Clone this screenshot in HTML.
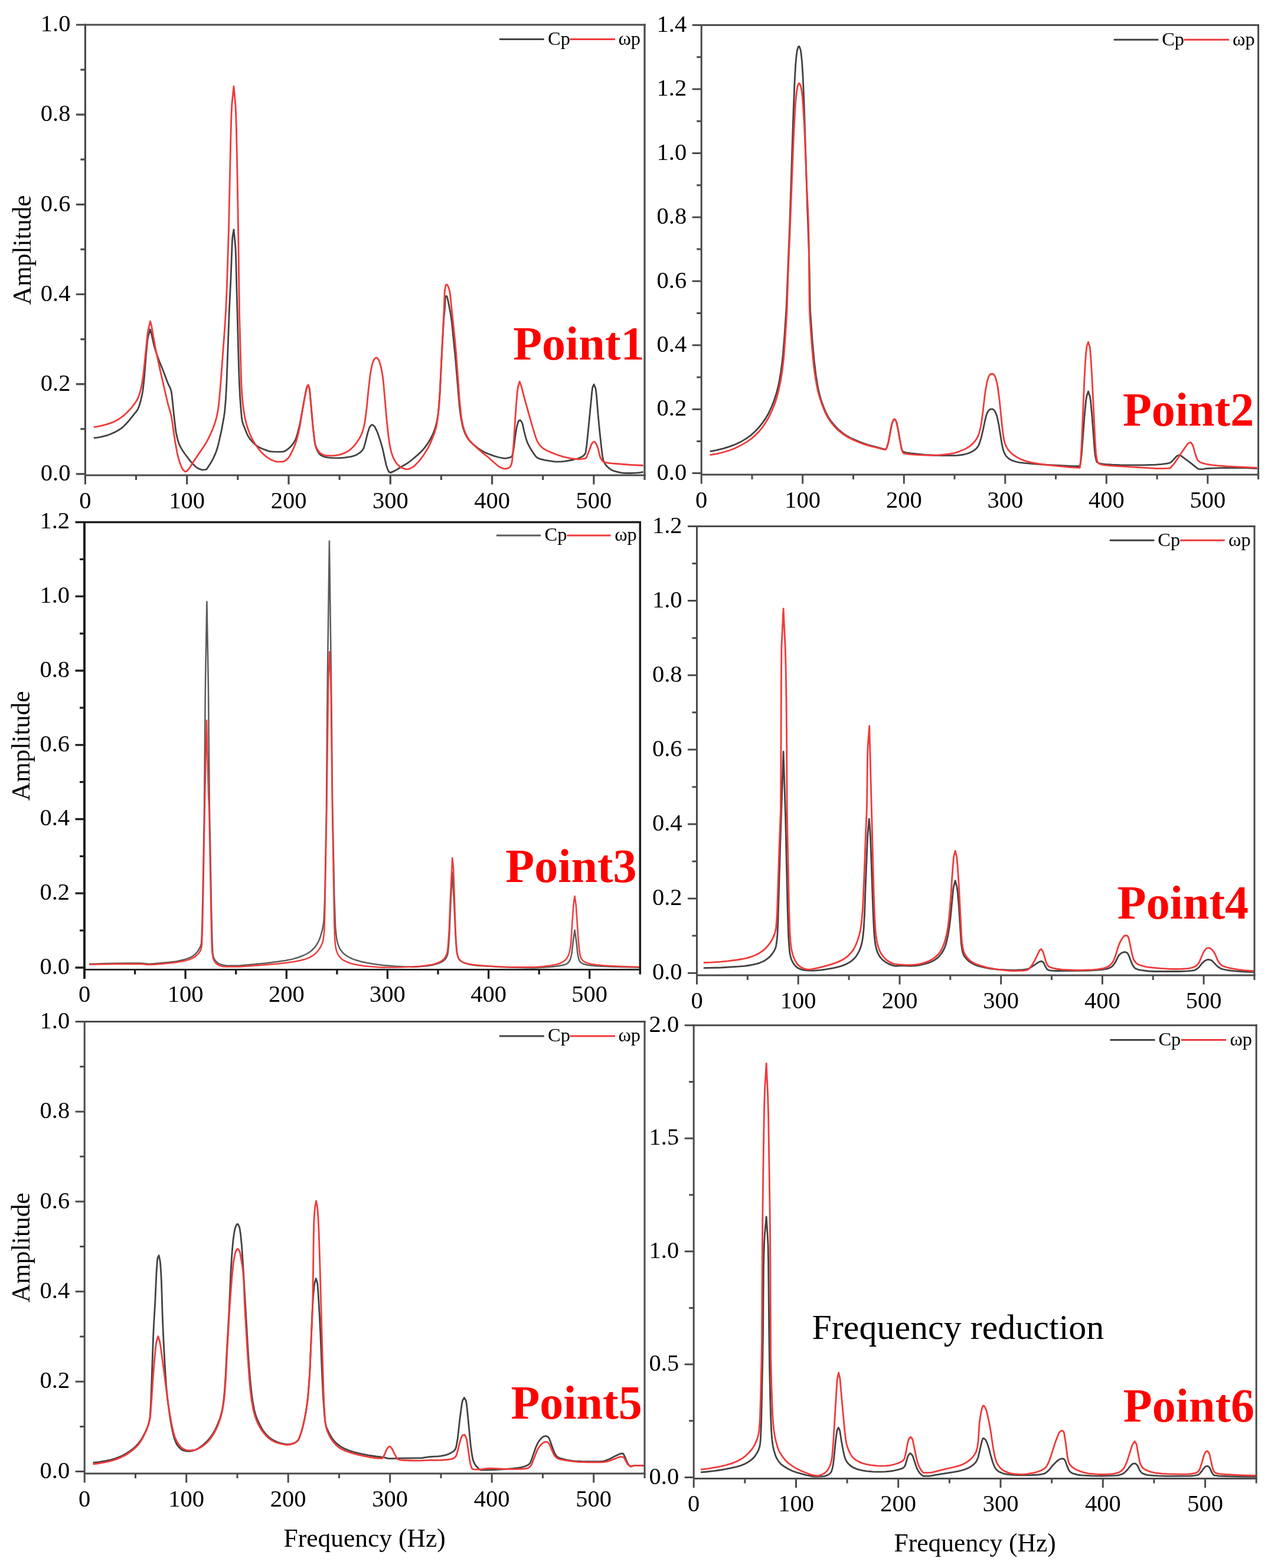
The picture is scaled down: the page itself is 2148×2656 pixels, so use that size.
<!DOCTYPE html>
<html lang="en">
<head>
<meta charset="utf-8">
<title>Amplitude spectra at monitoring points 1-6</title>
<style>
html,body{margin:0;padding:0;background:#ffffff;}
body{width:2148px;height:2656px;overflow:hidden;}
svg{display:block;filter:blur(0.7px);}
text{white-space:pre;}
</style>
</head>
<body>
<svg width="2148" height="2656" viewBox="0 0 2148 2656">
<rect x="0" y="0" width="2148" height="2656" fill="#ffffff"/>
<g id="panel1">
<path d="M158.8 741.9L163.8 741.3L169.8 740.3L176.8 738.7L181.8 737.3L187.3 735.2L193.8 732.4L198.3 730.1L202.8 727.3L206.3 724.9L209.3 722.3L212.8 718.8L217.8 713.3L221.3 709.1L227.3 701.4L230.8 697.2L232.3 695.2L233.8 692.6L235.8 687.5L238.3 679.0L240.3 670.7L241.8 662.5L243.3 650.2L244.8 634.6L247.3 603.0L249.8 576.1L250.8 570.6L254.4 558.0L256.9 566.9L260.9 585.2L264.4 596.9L269.4 610.7L277.4 630.5L283.9 647.9L284.9 650.3L288.4 657.4L289.9 662.0L290.4 664.2L291.4 671.9L294.9 705.9L297.4 727.1L298.4 733.2L300.4 742.4L301.9 747.8L303.4 752.0L304.9 755.4L306.9 759.1L309.9 764.1L312.9 768.5L323.4 782.3L327.9 787.1L331.4 790.5L333.9 792.4L336.9 793.9L339.9 795.2L342.4 795.8L345.4 795.7L348.9 795.3L349.9 794.8L351.4 792.8L357.4 783.5L361.4 776.1L364.9 768.4L367.9 760.1L370.9 748.5L375.4 728.0L379.4 705.9L380.9 694.9L382.4 676.4L383.9 648.3L388.4 524.7L390.9 474.4L393.4 407.3L393.9 401.4L396.0 388.8L398.5 414.9L399.0 421.5L399.5 432.5L404.0 606.0L405.0 638.6L406.5 671.2L408.0 691.7L409.5 708.3L410.5 713.8L412.0 718.9L418.0 734.1L420.5 739.2L424.0 744.4L428.0 748.9L433.0 753.7L437.0 756.5L440.5 758.4L444.5 760.2L453.0 763.4L456.5 764.5L459.0 764.9L464.5 765.2L475.0 765.3L480.5 764.9L483.0 763.9L487.0 761.2L489.5 759.2L492.0 756.9L494.5 754.1L497.5 749.9L500.5 744.8L502.0 740.9L504.0 734.2L507.0 722.3L508.5 715.4L516.0 673.9L519.0 658.9L520.0 655.3L520.5 654.4L522.1 652.5L524.1 658.0L524.6 660.8L530.1 722.8L532.1 740.7L533.6 751.6L535.1 757.5L537.1 762.6L540.1 767.5L541.6 769.3L543.1 770.7L545.6 772.2L548.6 773.5L551.6 774.3L555.1 774.9L562.6 775.7L576.6 775.8L583.6 775.1L590.6 774.2L595.1 773.3L600.6 771.8L603.1 770.7L605.6 769.4L609.1 767.1L611.6 765.1L613.6 763.0L615.6 760.0L616.6 757.4L617.6 754.1L620.1 744.7L622.6 734.3L625.1 726.3L626.1 723.8L627.6 721.6L629.1 720.0L630.1 719.5L631.1 719.8L632.6 720.7L634.1 722.1L635.1 723.5L638.6 730.5L640.6 735.6L644.6 747.7L647.6 758.1L649.1 764.1L651.6 776.0L654.6 788.9L657.1 796.1L658.6 798.9L659.1 799.4L661.8 800.6L667.8 797.9L671.8 795.7L679.8 790.7L688.8 785.5L692.3 783.1L695.8 780.5L707.8 770.4L713.3 765.3L718.8 759.1L724.3 751.6L729.3 743.4L733.8 734.1L735.8 729.1L737.3 724.7L739.8 715.3L741.3 707.4L742.3 700.8L743.8 686.0L745.3 664.6L748.8 592.8L751.3 546.8L751.8 539.6L753.3 525.2L754.3 505.0L755.3 502.1L755.8 501.5L756.3 501.4L756.8 501.9L757.8 504.3L759.3 510.7L763.3 531.5L765.3 545.2L771.8 610.7L778.3 687.7L779.8 700.4L781.3 710.5L782.8 718.1L784.3 724.1L786.3 730.4L788.3 735.2L790.8 740.1L793.3 743.9L796.8 748.2L800.8 752.1L808.3 758.2L812.3 761.0L816.3 763.4L820.8 765.9L825.3 768.0L835.3 771.9L844.3 774.5L853.8 776.4L855.8 776.4L858.3 776.1L863.8 774.8L865.8 774.1L866.8 773.5L867.3 772.9L867.8 771.5L869.8 762.3L870.8 755.6L872.8 739.3L874.8 726.6L875.8 721.6L877.3 716.1L878.3 713.4L878.8 712.6L879.3 712.3L881.3 711.7L883.8 715.0L884.8 717.1L885.8 720.9L887.8 730.3L890.8 741.8L892.3 746.7L894.3 751.6L897.8 758.4L904.3 768.7L907.8 773.3L910.3 775.5L912.8 776.6L915.8 777.7L922.8 779.4L936.8 781.6L941.8 782.1L946.3 782.2L951.3 781.9L956.3 781.4L970.3 779.0L977.8 777.0L981.3 775.7L984.3 774.4L987.3 772.7L989.3 771.1L991.3 768.4L991.8 767.5L992.3 765.6L993.8 754.6L996.8 725.7L1002.8 663.5L1003.8 656.4L1004.3 654.8L1006.1 651.1L1008.6 657.1L1009.1 658.8L1009.6 661.8L1010.6 671.3L1013.1 702.3L1016.1 733.5L1019.1 760.7L1020.6 772.7L1021.6 778.2L1022.1 779.7L1023.1 782.2L1024.6 785.2L1026.6 788.2L1028.6 790.3L1032.1 793.4L1035.1 795.5L1037.6 796.9L1039.6 797.7L1048.1 799.9L1052.6 800.8L1057.1 801.3L1067.6 801.5L1079.6 800.9L1084.6 800.4L1089.6 799.5" fill="none" stroke="#424242" stroke-width="2.8" stroke-linejoin="round" stroke-linecap="butt"/>
<path d="M158.8 723.5L164.3 722.6L170.8 721.3L177.8 719.6L183.8 717.8L188.8 716.1L193.3 714.2L197.3 712.2L201.3 709.8L206.3 706.4L209.8 703.7L213.8 700.0L218.8 695.0L222.3 691.1L225.8 686.7L229.8 681.2L232.3 677.1L234.8 671.8L237.3 664.2L239.3 656.2L240.8 648.1L242.3 638.2L243.8 625.5L249.8 567.1L250.8 560.9L254.4 544.2L255.9 548.8L256.9 553.1L258.9 565.5L263.4 590.3L270.4 623.1L283.4 679.8L285.4 687.4L288.4 697.3L289.9 703.3L291.4 712.0L296.4 746.5L299.9 766.2L301.9 774.6L303.9 781.5L306.9 789.9L308.9 794.2L309.9 795.6L311.9 797.6L313.4 798.6L314.4 798.8L315.4 798.5L316.4 797.8L319.4 794.8L320.4 793.6L325.9 784.9L337.9 766.9L344.9 756.8L348.4 751.2L351.4 745.9L354.4 740.0L360.4 726.6L363.9 717.1L366.9 706.6L368.9 697.0L370.4 686.8L371.9 671.6L373.9 648.0L379.4 574.2L381.9 537.5L382.9 519.1L384.4 483.2L387.4 390.5L390.9 230.3L391.9 195.0L392.9 175.7L396.0 146.2L399.0 179.3L399.5 189.8L400.5 222.6L402.0 294.7L403.5 382.7L405.5 530.5L408.5 640.4L409.0 653.5L410.0 669.8L411.5 685.5L412.5 693.3L414.0 702.8L415.5 710.4L417.0 716.6L419.0 723.5L421.0 729.3L423.5 735.6L426.0 741.1L429.0 746.8L432.0 751.8L435.5 757.0L439.5 762.2L442.5 765.7L446.5 769.6L452.0 774.2L456.0 776.9L459.0 778.7L461.5 779.8L465.5 781.2L468.0 781.9L470.0 782.2L478.5 782.2L481.0 781.4L483.5 780.1L486.0 778.3L488.0 776.2L490.0 773.5L492.0 770.2L494.0 766.3L498.0 757.5L501.0 750.0L503.5 741.6L505.5 733.6L507.5 724.4L514.5 682.2L518.5 661.4L520.0 655.4L522.1 651.8L524.1 657.9L524.6 660.9L530.1 722.9L533.1 747.7L534.1 752.8L535.1 756.0L536.6 759.5L538.6 762.8L541.1 766.1L543.1 768.0L546.1 769.6L549.1 770.9L552.6 771.6L565.6 771.8L569.1 771.4L573.1 770.7L577.6 769.6L581.1 768.4L584.6 766.9L588.6 764.8L591.6 762.8L594.6 760.4L598.1 757.1L601.1 753.7L604.6 749.0L608.6 742.9L610.6 739.3L612.6 735.0L614.1 731.0L615.6 726.1L617.6 717.6L619.1 708.0L621.1 691.5L624.1 661.0L625.6 647.7L627.1 635.6L628.6 626.4L630.6 616.8L632.6 611.2L633.6 609.1L634.6 607.7L636.1 606.4L637.6 605.7L638.6 606.0L640.1 607.5L641.6 609.7L642.6 612.2L644.1 617.0L645.6 622.8L647.6 633.2L648.6 639.8L649.6 648.7L655.1 711.7L658.1 739.5L659.6 749.9L661.1 758.4L662.6 764.9L664.6 771.2L666.1 774.9L668.1 779.0L670.1 782.4L672.1 785.2L673.6 786.9L676.6 789.7L679.1 791.6L681.1 792.7L684.6 793.9L687.1 794.6L689.6 794.9L691.6 794.7L694.1 793.9L698.6 791.6L700.6 790.3L702.6 788.6L709.1 781.9L714.1 775.7L720.6 766.3L725.6 757.7L728.1 752.7L730.6 747.1L736.1 732.9L738.6 724.8L740.1 717.9L741.6 707.0L743.1 692.5L745.1 662.9L752.1 526.3L753.1 498.3L753.6 490.6L755.1 483.7L755.6 482.5L756.1 481.9L756.6 481.8L757.6 482.5L758.6 484.1L760.6 489.2L761.6 492.6L762.6 499.5L771.1 580.7L773.1 604.6L778.6 679.3L780.6 699.2L781.6 707.2L782.6 713.2L784.1 720.3L786.1 727.5L788.6 734.1L791.1 739.2L794.1 744.0L797.1 747.8L800.6 751.6L807.6 758.4L816.1 765.8L827.6 775.0L836.1 782.8L842.6 788.3L846.6 791.2L849.6 792.6L852.6 793.7L854.6 794.1L856.6 794.2L859.1 793.7L861.6 792.6L863.6 791.3L864.6 790.1L866.1 787.0L867.1 783.7L868.1 775.7L870.1 751.7L874.1 689.7L876.1 666.2L877.1 657.6L877.6 655.0L880.2 646.3L882.7 652.9L883.7 656.1L887.7 672.0L897.7 707.9L905.2 733.6L907.7 741.3L910.2 747.5L913.2 752.3L915.2 754.9L917.2 757.0L919.2 758.8L921.2 760.2L926.2 763.1L932.7 766.1L945.2 770.8L954.7 773.8L966.7 776.3L974.2 777.5L980.7 777.9L986.7 777.4L991.7 776.4L992.2 776.2L993.2 775.0L994.7 771.8L998.2 763.1L1001.2 754.5L1002.2 752.1L1003.2 750.5L1004.7 749.1L1005.7 748.5L1006.7 748.2L1007.7 748.7L1008.7 749.9L1010.2 752.6L1012.2 757.0L1013.2 760.2L1016.2 772.5L1017.2 775.5L1018.7 778.1L1020.2 780.2L1021.7 781.8L1022.7 782.5L1028.2 783.8L1036.2 784.8L1069.2 787.5L1089.6 788.5" fill="none" stroke="#f03a3a" stroke-width="2.8" stroke-linejoin="round" stroke-linecap="butt"/>
<g stroke="#4a4a4a" stroke-width="3.2" fill="none" stroke-linecap="butt">
<path d="M144.4 40.4V820.5"/>
<path d="M1092.0 40.4V813.0"/>
<path d="M128.9 42.0H1093.6"/>
<path d="M144.4 805.0H1093.6"/>
<path d="M128.9 802.8H144.4M136.4 726.7H144.4M128.9 650.6H144.4M136.4 574.6H144.4M128.9 498.5H144.4M136.4 422.4H144.4M128.9 346.3H144.4M136.4 270.2H144.4M128.9 194.2H144.4M136.4 118.1H144.4M316.7 805.0V820.5M489.0 805.0V820.5M661.3 805.0V820.5M833.6 805.0V820.5M1005.9 805.0V820.5M230.5 805.0V813.0M402.8 805.0V813.0M575.1 805.0V813.0M747.4 805.0V813.0M919.7 805.0V813.0"/>
</g>
<g font-family="'Liberation Serif', 'DejaVu Serif', serif" font-size="40.5" fill="#000000">
<g text-anchor="end">
<text x="119.4" y="814.0">0.0</text>
<text x="119.4" y="661.8">0.2</text>
<text x="119.4" y="509.7">0.4</text>
<text x="119.4" y="357.5">0.6</text>
<text x="119.4" y="205.4">0.8</text>
<text x="119.4" y="53.2">1.0</text>
</g>
<g text-anchor="middle">
<text x="144.4" y="860.8">0</text>
<text x="316.7" y="860.8">100</text>
<text x="489.0" y="860.8">200</text>
<text x="661.3" y="860.8">300</text>
<text x="833.6" y="860.8">400</text>
<text x="1005.9" y="860.8">500</text>
</g>
</g>
<path d="M846.0 66.4H921.7" stroke="#424242" stroke-width="3.0"/>
<path d="M965.4 66.4H1042.0" stroke="#f03a3a" stroke-width="3.0"/>
<text x="928.0" y="75.6" font-family="'Liberation Serif', 'DejaVu Serif', serif" font-size="32.5" fill="#000000">Cp</text>
<text x="1047.4" y="75.6" font-family="'Liberation Serif', 'DejaVu Serif', serif" font-size="32.5" fill="#000000">ωp</text>
<text x="869.2" y="609.4" font-family="'Liberation Serif', 'DejaVu Serif', serif" font-weight="bold" font-size="80" fill="#ff0000">Point1</text>
<text transform="translate(52.2 423.5) rotate(-90)" text-anchor="middle" font-family="'Liberation Serif', 'DejaVu Serif', serif" font-size="43.5" fill="#000000">Amplitude</text>
</g>
<g id="panel2">
<path d="M1202.6 764.7L1213.6 762.6L1225.6 759.7L1236.1 756.4L1245.6 752.7L1255.6 747.9L1264.1 742.9L1271.6 737.6L1278.1 731.8L1285.1 724.5L1291.6 716.4L1297.1 708.4L1302.1 699.7L1307.1 689.0L1311.6 677.4L1315.6 664.8L1318.6 652.8L1320.6 643.0L1322.6 631.0L1324.6 616.4L1326.1 602.9L1328.6 573.5L1332.1 522.2L1337.6 386.1L1344.1 187.5L1346.1 138.8L1347.6 111.1L1349.1 94.5L1350.1 86.9L1350.6 84.5L1352.1 80.0L1352.6 79.0L1353.1 78.5L1353.6 78.5L1354.1 79.1L1355.1 81.4L1356.1 84.6L1357.1 90.7L1358.6 105.1L1360.1 129.1L1362.1 175.5L1367.6 350.2L1370.1 419.7L1371.1 454.0L1372.1 509.6L1372.6 526.5L1376.1 577.0L1379.1 610.2L1382.1 635.2L1385.1 653.7L1386.6 661.1L1388.6 669.5L1390.6 676.4L1392.6 682.4L1395.6 690.5L1398.6 697.6L1401.1 702.7L1404.1 707.9L1407.6 713.2L1411.1 717.7L1415.6 722.8L1420.1 727.3L1427.6 733.6L1434.1 738.1L1441.6 742.2L1451.6 746.6L1461.6 750.6L1470.6 753.6L1488.1 758.1L1495.6 760.4L1498.1 760.9L1500.1 761.0L1500.6 760.8L1501.1 760.2L1502.1 758.2L1503.6 753.8L1505.1 748.6L1509.6 723.9L1511.1 717.2L1512.6 713.3L1513.6 711.3L1514.6 710.2L1515.1 710.1L1515.6 710.3L1516.6 711.3L1518.1 713.8L1518.6 715.1L1519.6 719.2L1521.6 729.3L1527.1 759.7L1527.6 761.3L1528.6 763.2L1529.6 764.6L1530.6 765.4L1532.6 766.1L1534.6 766.6L1543.6 768.0L1568.1 770.3L1578.1 771.0L1595.1 771.6L1616.1 771.6L1621.6 771.3L1629.1 770.5L1633.6 769.7L1638.1 768.5L1642.1 767.2L1645.6 765.6L1649.1 763.5L1652.1 761.3L1654.6 758.9L1656.6 756.3L1657.6 754.6L1659.1 751.1L1662.1 741.9L1665.6 726.7L1668.6 712.1L1670.6 704.6L1672.1 699.9L1673.6 697.0L1675.1 695.0L1676.1 694.0L1677.6 693.2L1681.1 692.8L1682.1 693.2L1683.1 693.9L1685.1 696.1L1687.1 700.2L1688.1 702.9L1689.1 706.3L1692.1 720.3L1697.1 751.9L1698.6 758.9L1700.1 764.3L1701.6 767.9L1704.1 772.1L1706.6 774.9L1710.1 777.7L1714.1 779.8L1720.6 782.0L1726.6 783.3L1735.6 784.4L1755.1 786.1L1774.1 787.4L1813.6 789.5L1829.1 789.6L1829.6 788.6L1830.1 786.4L1832.1 771.0L1837.1 705.2L1839.6 678.6L1840.6 672.0L1843.5 662.9L1846.5 672.1L1847.5 678.8L1850.0 705.6L1854.0 758.9L1855.0 769.4L1856.5 777.7L1857.5 781.4L1858.0 782.4L1858.5 782.9L1860.5 784.1L1862.5 784.9L1864.5 785.3L1872.0 786.4L1884.5 787.2L1897.5 787.7L1920.5 787.9L1935.5 787.9L1957.5 787.1L1967.5 786.3L1977.0 785.1L1980.5 784.3L1983.0 783.5L1985.0 781.9L1993.0 772.9L1994.5 772.0L1998.6 770.7L2014.6 782.3L2028.1 793.2L2029.6 794.1L2030.6 794.3L2036.1 794.9L2038.1 794.7L2043.1 793.7L2054.1 793.1L2068.6 792.6L2093.6 792.3L2110.1 792.5L2129.6 793.7" fill="none" stroke="#424242" stroke-width="2.8" stroke-linejoin="round" stroke-linecap="butt"/>
<path d="M1202.6 770.7L1213.6 768.8L1225.6 766.0L1235.6 763.0L1244.1 759.8L1254.6 754.6L1264.6 748.9L1272.1 743.7L1279.1 737.6L1285.6 731.1L1291.6 723.8L1297.1 715.8L1302.6 706.2L1307.6 695.8L1312.1 684.7L1315.6 674.1L1318.6 662.6L1320.6 653.7L1322.6 643.7L1324.1 634.7L1325.6 624.2L1327.1 611.3L1328.1 600.7L1330.1 572.9L1333.1 525.5L1335.1 463.5L1338.1 392.1L1344.1 238.7L1345.6 207.6L1347.6 174.4L1349.1 158.5L1350.1 151.6L1351.1 146.7L1352.6 142.4L1353.1 141.5L1353.6 141.0L1354.1 141.2L1355.1 142.6L1356.6 146.4L1357.6 151.1L1359.1 162.0L1360.6 180.6L1362.6 215.5L1364.1 249.4L1366.6 315.0L1368.6 354.5L1369.6 382.8L1370.1 402.9L1371.1 513.0L1371.6 531.2L1373.6 562.3L1375.1 582.5L1377.1 606.1L1378.6 620.0L1380.1 631.9L1381.6 641.9L1383.6 653.2L1385.6 662.5L1387.1 668.4L1389.1 675.1L1392.6 685.3L1395.6 693.3L1398.1 699.2L1400.6 704.1L1403.6 709.3L1406.6 713.8L1410.1 718.4L1414.1 723.0L1418.1 727.1L1422.6 731.1L1429.6 736.4L1437.1 741.0L1445.6 745.2L1457.1 750.0L1465.1 752.9L1472.6 755.2L1487.1 758.6L1495.1 760.8L1497.6 761.3L1500.1 761.5L1500.6 761.2L1501.1 760.6L1502.1 758.5L1505.1 748.6L1509.6 723.9L1511.1 717.2L1512.6 713.3L1513.6 711.3L1514.6 710.2L1515.1 710.1L1515.6 710.3L1516.6 711.3L1518.1 713.8L1518.6 715.1L1519.6 719.2L1521.6 729.3L1527.1 759.9L1527.6 761.7L1529.1 765.6L1530.1 767.3L1530.6 767.7L1532.6 768.3L1534.6 768.6L1544.6 769.8L1552.6 770.4L1569.1 771.0L1583.6 771.1L1590.1 770.8L1599.6 770.0L1608.6 768.9L1617.1 767.3L1624.6 764.8L1631.6 762.0L1636.1 759.9L1640.6 757.3L1644.1 754.8L1648.1 751.1L1652.1 746.5L1654.6 742.9L1657.1 738.0L1658.1 735.3L1659.6 730.1L1661.1 723.7L1662.1 718.6L1665.1 697.1L1668.1 670.7L1670.1 657.3L1672.1 647.2L1674.1 640.0L1675.1 637.6L1676.6 635.0L1678.1 633.5L1682.1 633.4L1683.1 633.9L1684.1 635.1L1685.6 637.7L1686.6 640.1L1688.6 647.5L1690.1 655.2L1693.1 677.8L1698.1 726.8L1699.6 738.2L1701.1 746.7L1702.6 751.7L1704.6 756.4L1707.6 761.4L1710.6 765.1L1713.6 768.0L1717.1 770.8L1721.6 773.7L1726.6 776.5L1730.6 778.4L1735.1 780.1L1740.6 781.8L1746.1 783.2L1758.6 785.5L1776.1 787.8L1814.1 791.6L1823.6 792.2L1829.1 792.3L1829.6 790.4L1830.6 780.1L1832.1 756.9L1836.6 649.7L1838.1 619.3L1839.6 598.9L1840.6 589.3L1841.1 586.5L1843.5 579.4L1846.0 586.7L1846.5 589.8L1848.0 608.4L1849.5 632.6L1855.0 744.6L1856.5 767.7L1858.0 777.9L1859.0 781.9L1860.0 783.5L1862.0 785.4L1864.5 786.6L1869.5 787.6L1881.5 788.8L1894.0 789.7L1959.5 793.6L1971.0 793.7L1981.5 793.1L1982.5 792.6L1983.5 791.7L1987.0 787.8L1989.5 784.6L1995.5 776.0L2003.5 763.8L2011.0 753.0L2013.0 751.0L2016.7 749.1L2019.7 752.7L2020.7 754.5L2021.7 757.6L2024.2 766.9L2026.7 774.7L2028.2 778.4L2029.2 779.8L2031.2 781.7L2032.7 782.7L2034.7 783.7L2039.2 785.2L2044.7 786.4L2052.7 787.6L2062.2 788.6L2078.7 789.8L2129.6 792.3" fill="none" stroke="#f03a3a" stroke-width="2.8" stroke-linejoin="round" stroke-linecap="butt"/>
<g stroke="#4a4a4a" stroke-width="3.0" fill="none" stroke-linecap="butt">
<path d="M1188.2 41.1V819.5"/>
<path d="M2131.6 41.1V812.0"/>
<path d="M1172.7 42.6H2133.1"/>
<path d="M1188.2 804.0H2133.1"/>
<path d="M1172.7 801.6H1188.2M1180.2 747.4H1188.2M1172.7 693.2H1188.2M1180.2 639.0H1188.2M1172.7 584.7H1188.2M1180.2 530.5H1188.2M1172.7 476.3H1188.2M1180.2 422.1H1188.2M1172.7 367.9H1188.2M1180.2 313.7H1188.2M1172.7 259.5H1188.2M1180.2 205.2H1188.2M1172.7 151.0H1188.2M1180.2 96.8H1188.2M1359.7 804.0V819.5M1531.3 804.0V819.5M1702.8 804.0V819.5M1874.3 804.0V819.5M2045.8 804.0V819.5M1274.0 804.0V812.0M1445.5 804.0V812.0M1617.0 804.0V812.0M1788.5 804.0V812.0M1960.1 804.0V812.0"/>
</g>
<g font-family="'Liberation Serif', 'DejaVu Serif', serif" font-size="40.5" fill="#000000">
<g text-anchor="end">
<text x="1163.2" y="812.8">0.0</text>
<text x="1163.2" y="704.4">0.2</text>
<text x="1163.2" y="595.9">0.4</text>
<text x="1163.2" y="487.5">0.6</text>
<text x="1163.2" y="379.1">0.8</text>
<text x="1163.2" y="270.7">1.0</text>
<text x="1163.2" y="162.2">1.2</text>
<text x="1163.2" y="53.8">1.4</text>
</g>
<g text-anchor="middle">
<text x="1188.2" y="859.8">0</text>
<text x="1359.7" y="859.8">100</text>
<text x="1531.3" y="859.8">200</text>
<text x="1702.8" y="859.8">300</text>
<text x="1874.3" y="859.8">400</text>
<text x="2045.8" y="859.8">500</text>
</g>
</g>
<path d="M1886.7 67.3H1962.3" stroke="#424242" stroke-width="3.0"/>
<path d="M2005.6 67.3H2082.1" stroke="#f03a3a" stroke-width="3.0"/>
<text x="1968.2" y="76.5" font-family="'Liberation Serif', 'DejaVu Serif', serif" font-size="32.5" fill="#000000">Cp</text>
<text x="2088.0" y="76.5" font-family="'Liberation Serif', 'DejaVu Serif', serif" font-size="32.5" fill="#000000">ωp</text>
<text x="1902.0" y="721.0" font-family="'Liberation Serif', 'DejaVu Serif', serif" font-weight="bold" font-size="80" fill="#ff0000">Point2</text>
</g>
<g id="panel3">
<path d="M151.1 1633.0L180.1 1632.0L215.6 1631.6L237.6 1631.6L249.6 1632.6L254.6 1632.7L261.1 1632.3L286.1 1630.0L298.6 1628.4L306.6 1626.8L315.6 1624.4L321.1 1622.4L325.6 1620.2L327.6 1618.8L330.1 1616.7L332.1 1614.7L334.1 1612.4L336.1 1609.5L338.6 1605.2L340.1 1601.7L341.1 1597.3L341.6 1588.6L342.6 1558.5L343.6 1512.4L346.1 1367.5L347.6 1188.3L348.1 1149.0L350.4 1019.0L352.9 1160.4L354.9 1371.5L356.4 1442.7L357.9 1530.0L358.9 1573.7L359.9 1604.3L360.4 1614.4L360.9 1617.7L361.9 1621.6L362.9 1624.3L364.4 1626.7L366.9 1629.5L369.9 1631.9L372.4 1633.1L375.9 1634.2L379.9 1635.1L383.9 1635.7L400.4 1635.7L406.9 1635.4L450.4 1631.4L469.9 1629.1L483.9 1627.0L495.4 1624.6L505.9 1621.5L510.9 1619.7L514.9 1618.0L518.9 1616.0L522.4 1614.0L525.4 1611.9L528.4 1609.5L531.4 1606.6L533.4 1604.4L535.9 1601.0L537.9 1597.7L540.4 1592.8L542.9 1586.2L545.9 1575.6L547.4 1568.3L548.4 1560.6L548.9 1553.6L549.9 1529.0L550.4 1510.2L552.9 1372.0L554.9 1139.5L557.9 916.6L561.4 1181.0L562.9 1335.2L563.4 1371.4L566.4 1520.6L567.9 1564.2L568.4 1572.4L569.9 1587.1L570.9 1593.2L572.9 1600.5L574.9 1605.4L576.4 1608.1L577.9 1610.3L579.9 1612.8L581.9 1614.9L584.4 1617.0L586.9 1618.8L589.9 1620.7L593.4 1622.5L597.4 1624.3L601.4 1625.8L610.4 1628.5L620.4 1630.8L631.9 1632.7L648.4 1634.9L669.9 1636.7L684.9 1637.6L699.4 1638.0L708.9 1637.6L721.9 1636.3L729.9 1635.2L733.9 1634.4L738.9 1633.1L744.4 1631.2L747.9 1629.6L750.9 1627.8L752.9 1626.2L754.4 1624.7L756.4 1621.5L757.4 1619.0L758.4 1615.9L758.9 1613.2L759.4 1608.8L760.4 1596.3L761.4 1580.1L763.4 1530.8L766.2 1477.5L769.2 1529.0L771.7 1587.4L772.7 1602.2L773.7 1612.7L775.2 1619.4L776.2 1622.3L777.2 1624.3L778.7 1626.1L780.2 1627.6L781.7 1628.7L783.7 1629.9L788.7 1631.9L794.7 1633.5L800.2 1634.4L808.7 1635.4L821.2 1636.3L848.7 1637.9L865.2 1638.6L884.2 1639.1L904.7 1639.4L921.7 1638.6L933.2 1637.7L940.7 1636.9L950.2 1635.5L955.7 1634.3L959.7 1632.8L962.2 1630.9L963.7 1629.1L965.2 1626.8L966.7 1622.9L967.7 1619.0L968.7 1613.9L970.7 1595.6L973.6 1575.5L976.6 1596.6L978.6 1616.1L979.6 1621.1L981.1 1626.5L982.1 1628.6L984.1 1630.5L986.1 1631.8L989.6 1633.3L995.6 1634.7L1002.1 1635.6L1010.1 1636.3L1037.6 1637.6L1084.5 1638.8" fill="none" stroke="#5a5a5a" stroke-width="2.5" stroke-linejoin="round" stroke-linecap="butt"/>
<path d="M151.1 1633.8L187.1 1632.9L236.6 1632.7L240.6 1632.9L249.6 1634.0L254.6 1634.1L261.6 1633.7L279.1 1632.2L295.6 1630.5L305.1 1629.1L313.6 1627.4L320.1 1625.6L325.1 1623.6L327.6 1622.3L330.1 1620.7L334.6 1617.0L337.1 1614.1L339.6 1610.0L340.6 1607.5L341.6 1603.1L342.1 1596.4L343.1 1565.0L344.1 1522.8L346.6 1375.8L350.0 1220.2L353.0 1344.0L353.5 1357.2L354.0 1364.8L354.5 1383.8L357.5 1548.2L358.5 1592.2L359.0 1607.0L359.5 1614.5L361.0 1622.9L362.5 1627.0L364.0 1629.5L365.5 1631.4L367.0 1632.8L368.5 1633.9L371.5 1635.3L375.0 1636.6L378.0 1637.3L380.5 1637.6L400.5 1637.6L406.5 1637.4L453.0 1634.1L469.0 1632.7L484.0 1631.1L498.0 1629.0L508.5 1627.0L517.0 1624.7L524.5 1621.8L529.5 1618.9L532.5 1616.7L535.0 1614.6L537.0 1612.5L539.0 1610.1L541.5 1606.5L544.0 1602.1L545.5 1598.8L546.5 1595.8L547.5 1591.7L548.0 1588.8L549.0 1579.4L549.5 1572.4L550.5 1533.8L553.5 1362.6L556.0 1168.9L556.5 1146.5L558.3 1104.0L560.3 1154.7L560.8 1182.1L562.8 1360.5L566.3 1563.9L566.8 1583.7L567.3 1591.7L568.3 1602.2L568.8 1605.4L569.8 1609.6L570.8 1612.8L572.3 1616.1L574.8 1620.0L577.3 1622.9L579.3 1624.8L581.3 1626.2L586.8 1629.2L592.8 1631.5L599.8 1633.3L608.8 1635.0L619.3 1636.4L640.8 1638.3L648.8 1638.7L671.3 1638.4L699.3 1637.4L710.8 1636.7L722.3 1635.4L731.3 1634.0L734.8 1633.2L738.8 1631.9L742.8 1630.4L745.8 1629.0L748.3 1627.4L750.8 1625.4L752.3 1623.9L753.8 1622.1L755.3 1619.4L756.3 1617.0L757.8 1612.0L758.8 1604.0L760.8 1575.3L762.8 1523.2L766.2 1453.1L767.7 1466.3L768.2 1473.3L771.7 1575.7L772.7 1594.4L773.7 1608.3L774.7 1615.2L775.7 1619.5L776.7 1622.5L777.7 1624.4L779.2 1626.2L781.2 1628.0L783.2 1629.4L785.2 1630.3L787.7 1631.2L793.7 1632.8L800.2 1633.9L810.7 1635.1L824.2 1636.2L846.2 1637.4L860.2 1638.0L872.2 1638.2L904.7 1638.2L912.2 1637.8L920.7 1637.1L932.7 1635.6L940.2 1634.3L947.2 1632.3L950.2 1631.0L952.7 1629.7L955.7 1627.7L957.7 1626.1L959.7 1623.7L961.2 1621.4L962.7 1618.5L963.7 1616.0L964.7 1612.6L965.7 1608.0L966.7 1601.8L967.2 1596.6L971.2 1536.2L971.7 1531.0L973.6 1517.9L975.6 1532.1L976.1 1537.9L979.6 1590.9L981.1 1606.7L982.1 1614.2L983.1 1619.7L983.6 1621.4L984.6 1623.3L985.6 1624.9L987.1 1626.8L988.6 1628.2L990.1 1629.2L992.6 1630.4L995.6 1631.5L1001.6 1633.0L1010.1 1634.3L1023.1 1635.4L1046.6 1636.8L1064.6 1637.5L1084.5 1638.0" fill="none" stroke="#f03a3a" stroke-width="2.5" stroke-linejoin="round" stroke-linecap="butt"/>
<g stroke="#1c1c1c" stroke-width="3.3" fill="none" stroke-linecap="butt">
<path d="M143.0 882.9V1657.9" stroke-width="3.9"/>
<path d="M1084.3 882.9V1650.4" stroke-width="3.5"/>
<path d="M127.5 884.5H1086.0" stroke-width="3.6"/>
<path d="M143.0 1642.4H1086.0" stroke-width="2.7"/>
<path d="M127.5 1639.0H143.0M135.0 1576.1H143.0M127.5 1513.2H143.0M135.0 1450.4H143.0M127.5 1387.5H143.0M135.0 1324.6H143.0M127.5 1261.8H143.0M135.0 1198.9H143.0M127.5 1136.0H143.0M135.0 1073.1H143.0M127.5 1010.2H143.0M135.0 947.4H143.0M314.1 1642.4V1657.9M485.3 1642.4V1657.9M656.4 1642.4V1657.9M827.6 1642.4V1657.9M998.7 1642.4V1657.9M228.6 1642.4V1650.4M399.7 1642.4V1650.4M570.9 1642.4V1650.4M742.0 1642.4V1650.4M913.2 1642.4V1650.4"/>
</g>
<g font-family="'Liberation Serif', 'DejaVu Serif', serif" font-size="40.5" fill="#000000">
<g text-anchor="end">
<text x="118.0" y="1649.7">0.0</text>
<text x="118.0" y="1524.0">0.2</text>
<text x="118.0" y="1398.2">0.4</text>
<text x="118.0" y="1272.5">0.6</text>
<text x="118.0" y="1146.7">0.8</text>
<text x="118.0" y="1021.0">1.0</text>
<text x="118.0" y="895.2">1.2</text>
</g>
<g text-anchor="middle">
<text x="143.0" y="1696.8">0</text>
<text x="314.1" y="1696.8">100</text>
<text x="485.3" y="1696.8">200</text>
<text x="656.4" y="1696.8">300</text>
<text x="827.6" y="1696.8">400</text>
<text x="998.7" y="1696.8">500</text>
</g>
</g>
<path d="M841.0 906.9H916.1" stroke="#5a5a5a" stroke-width="3.0"/>
<path d="M960.4 906.9H1034.6" stroke="#f03a3a" stroke-width="3.0"/>
<text x="922.5" y="916.0" font-family="'Liberation Serif', 'DejaVu Serif', serif" font-size="32.5" fill="#000000">Cp</text>
<text x="1041.2" y="916.0" font-family="'Liberation Serif', 'DejaVu Serif', serif" font-size="32.5" fill="#000000">ωp</text>
<text x="856.3" y="1494.2" font-family="'Liberation Serif', 'DejaVu Serif', serif" font-weight="bold" font-size="80" fill="#ff0000">Point3</text>
<text transform="translate(50.2 1263.5) rotate(-90)" text-anchor="middle" font-family="'Liberation Serif', 'DejaVu Serif', serif" font-size="43.5" fill="#000000">Amplitude</text>
</g>
<g id="panel4">
<path d="M1191.9 1639.7L1221.4 1639.0L1251.4 1637.2L1260.9 1636.3L1267.4 1635.5L1274.9 1634.2L1281.4 1632.7L1287.4 1630.8L1292.9 1628.5L1296.9 1626.2L1301.4 1622.8L1304.9 1619.6L1307.9 1616.0L1311.4 1610.8L1313.4 1606.5L1314.4 1603.3L1314.9 1601.0L1316.4 1590.0L1316.9 1583.0L1317.9 1561.7L1321.9 1426.0L1327.1 1273.1L1330.6 1382.6L1334.1 1538.4L1335.6 1584.5L1336.6 1600.8L1337.6 1611.8L1338.1 1615.4L1339.6 1622.0L1341.6 1627.6L1344.6 1632.8L1347.6 1636.5L1350.1 1638.7L1354.1 1640.9L1358.6 1642.6L1363.1 1643.4L1371.6 1644.2L1379.1 1644.1L1390.6 1643.2L1399.6 1641.9L1412.6 1639.6L1422.6 1637.2L1428.6 1635.1L1434.6 1632.5L1439.6 1629.7L1443.6 1626.8L1447.1 1623.6L1450.1 1620.1L1453.1 1615.4L1455.6 1610.6L1457.1 1607.0L1458.6 1602.5L1460.6 1594.4L1462.1 1584.3L1463.1 1574.1L1464.6 1547.1L1466.6 1490.4L1469.6 1418.2L1470.1 1410.1L1472.3 1386.9L1473.8 1406.1L1474.8 1425.0L1478.8 1538.9L1479.8 1562.4L1480.8 1580.7L1481.8 1591.4L1482.8 1599.2L1484.3 1606.5L1486.3 1612.7L1488.8 1617.9L1491.8 1622.3L1495.3 1626.1L1499.8 1629.5L1504.3 1632.1L1510.3 1634.6L1514.3 1635.9L1517.3 1636.4L1527.8 1635.7L1541.8 1636.4L1549.8 1635.9L1556.3 1635.1L1559.8 1634.5L1567.3 1632.6L1572.3 1631.1L1576.8 1629.5L1580.8 1627.6L1584.8 1625.1L1588.3 1622.4L1591.3 1619.4L1593.8 1616.4L1595.8 1613.6L1597.8 1610.3L1599.8 1606.2L1601.3 1602.5L1603.3 1596.0L1605.8 1584.8L1607.8 1573.1L1609.8 1557.8L1614.8 1505.9L1615.8 1500.6L1618.2 1491.7L1621.2 1503.3L1622.2 1510.8L1624.2 1534.1L1628.2 1596.5L1629.2 1604.7L1630.7 1612.9L1632.2 1617.1L1634.2 1620.7L1637.2 1624.3L1640.7 1627.7L1644.2 1630.4L1647.7 1632.4L1652.7 1634.6L1657.7 1636.3L1665.7 1638.5L1673.7 1640.1L1679.7 1641.0L1689.7 1642.1L1703.7 1642.9L1714.2 1643.3L1722.7 1643.2L1732.7 1642.7L1738.2 1641.9L1741.7 1641.1L1743.2 1640.6L1745.2 1639.4L1759.7 1629.7L1761.7 1628.8L1764.5 1628.1L1767.5 1630.2L1768.5 1632.0L1770.5 1636.5L1773.5 1641.6L1774.0 1642.1L1775.5 1642.9L1778.5 1643.8L1784.0 1644.3L1789.0 1644.5L1821.5 1644.4L1844.0 1644.0L1863.0 1642.9L1869.5 1642.1L1875.0 1641.1L1879.0 1639.8L1883.0 1637.7L1884.5 1636.4L1886.0 1634.7L1889.5 1629.8L1894.0 1620.4L1896.0 1617.7L1898.0 1615.6L1900.0 1614.2L1903.0 1613.0L1905.0 1612.7L1907.0 1613.0L1909.0 1613.7L1910.0 1614.5L1910.5 1615.2L1914.0 1622.9L1917.5 1632.6L1919.5 1636.1L1921.5 1638.8L1923.0 1640.2L1925.5 1641.5L1929.0 1642.6L1933.0 1643.4L1945.5 1645.0L1956.0 1645.5L1998.0 1645.5L2012.5 1644.9L2019.5 1644.2L2024.0 1643.3L2027.0 1641.7L2031.0 1638.5L2035.5 1632.6L2039.5 1628.7L2041.5 1627.3L2044.0 1626.0L2045.5 1625.5L2047.0 1625.4L2049.5 1625.8L2052.5 1626.9L2054.0 1628.1L2061.0 1635.6L2063.0 1637.5L2067.5 1640.3L2069.5 1641.2L2072.0 1641.9L2079.5 1643.5L2089.5 1644.7L2108.0 1646.0L2125.3 1646.7" fill="none" stroke="#424242" stroke-width="2.8" stroke-linejoin="round" stroke-linecap="butt"/>
<path d="M1191.9 1630.7L1204.9 1630.2L1220.9 1629.2L1233.4 1627.9L1247.9 1626.0L1257.4 1624.5L1265.4 1622.8L1272.4 1620.7L1279.4 1618.0L1285.4 1614.9L1291.9 1610.6L1296.4 1606.8L1300.9 1602.0L1304.9 1596.7L1307.9 1591.6L1311.4 1584.1L1312.4 1581.2L1313.4 1577.5L1314.4 1572.4L1314.9 1568.1L1316.4 1548.0L1319.9 1439.9L1322.4 1374.0L1322.9 1304.7L1323.4 1157.1L1323.9 1097.1L1327.1 1030.9L1330.1 1093.6L1331.1 1128.3L1332.1 1192.6L1332.6 1242.2L1333.1 1358.6L1333.6 1395.0L1336.6 1537.1L1338.1 1581.7L1339.1 1595.3L1340.1 1604.2L1341.1 1609.8L1342.6 1616.0L1343.6 1619.2L1345.1 1623.0L1347.1 1627.3L1348.6 1630.0L1351.1 1633.6L1354.6 1636.7L1357.1 1638.5L1359.1 1639.5L1361.1 1640.3L1364.6 1641.3L1367.1 1641.9L1369.6 1642.2L1374.1 1641.9L1386.6 1639.3L1407.1 1633.8L1417.1 1630.4L1425.1 1626.9L1430.6 1623.7L1435.6 1619.9L1439.6 1616.2L1443.6 1611.4L1447.1 1606.0L1449.6 1600.9L1452.6 1593.3L1455.1 1585.5L1456.6 1579.7L1457.6 1574.8L1459.1 1565.1L1461.1 1544.0L1462.1 1526.0L1464.1 1479.7L1466.6 1410.4L1468.1 1377.4L1468.6 1358.1L1469.6 1279.1L1470.1 1265.1L1472.7 1229.5L1480.2 1514.6L1481.2 1543.4L1482.2 1563.1L1483.2 1578.1L1484.2 1587.1L1485.7 1596.1L1487.2 1602.3L1489.7 1609.3L1491.2 1612.6L1492.7 1615.3L1496.2 1620.2L1500.2 1624.6L1502.2 1626.4L1504.2 1627.8L1508.7 1630.4L1512.7 1632.2L1515.2 1632.9L1520.7 1633.6L1532.2 1634.3L1542.2 1634.6L1548.7 1634.2L1557.2 1633.1L1562.2 1631.9L1569.7 1629.4L1575.2 1627.0L1580.2 1624.2L1584.2 1621.4L1588.2 1617.8L1591.2 1614.2L1593.7 1610.5L1595.7 1606.8L1597.2 1603.5L1599.2 1598.3L1601.2 1592.2L1603.7 1582.4L1605.7 1571.3L1607.7 1554.6L1609.2 1538.8L1611.2 1512.1L1613.2 1480.3L1615.2 1455.3L1616.2 1448.6L1618.2 1441.0L1620.2 1448.8L1620.7 1451.5L1622.2 1467.5L1624.2 1498.0L1628.7 1585.0L1629.7 1597.1L1631.2 1606.6L1632.2 1610.7L1634.2 1615.7L1636.2 1619.2L1638.7 1622.5L1642.2 1626.1L1645.7 1628.9L1649.7 1631.2L1654.2 1633.2L1662.7 1636.2L1672.2 1638.8L1682.7 1640.9L1694.2 1642.7L1707.7 1644.1L1715.2 1644.5L1733.2 1644.2L1737.7 1643.6L1740.7 1642.7L1742.2 1641.8L1744.2 1639.8L1747.2 1636.0L1749.7 1632.2L1753.2 1626.0L1758.2 1615.9L1760.7 1610.4L1761.7 1609.1L1763.8 1607.6L1766.3 1611.1L1767.3 1613.3L1771.8 1628.9L1773.3 1632.8L1774.8 1635.2L1776.3 1636.8L1778.8 1638.2L1781.8 1639.4L1784.8 1640.2L1789.3 1641.0L1798.8 1642.3L1810.3 1642.9L1823.3 1643.3L1835.8 1643.2L1851.8 1642.6L1859.8 1641.8L1867.8 1640.5L1870.8 1639.8L1873.3 1639.0L1878.3 1636.6L1881.3 1634.2L1884.3 1630.6L1885.8 1628.2L1887.8 1623.7L1890.8 1615.4L1894.3 1603.4L1896.3 1598.4L1898.3 1594.2L1901.8 1588.5L1903.8 1585.8L1904.3 1585.4L1905.3 1585.0L1908.3 1584.5L1908.8 1584.6L1909.8 1585.3L1911.3 1587.4L1911.8 1588.6L1912.8 1592.4L1917.3 1614.3L1919.3 1622.3L1920.8 1626.3L1923.3 1629.7L1924.8 1631.3L1926.3 1632.5L1930.3 1634.5L1935.3 1636.2L1942.3 1637.8L1952.8 1639.2L1966.8 1640.4L1982.3 1641.3L1992.3 1641.5L2002.8 1641.2L2012.3 1640.6L2017.8 1639.5L2022.3 1638.1L2024.8 1636.9L2027.3 1635.1L2029.8 1632.5L2030.8 1631.2L2031.8 1629.3L2035.8 1619.5L2038.3 1614.0L2039.8 1611.2L2042.3 1607.9L2043.8 1606.5L2045.8 1605.8L2047.8 1605.5L2049.3 1606.0L2051.8 1607.5L2053.3 1608.8L2054.8 1610.6L2058.3 1616.0L2062.3 1625.7L2063.8 1628.4L2065.8 1631.4L2067.3 1633.3L2068.8 1634.7L2070.8 1635.8L2073.8 1637.2L2077.8 1638.5L2083.8 1639.9L2090.3 1641.2L2097.8 1642.3L2108.8 1643.6L2125.3 1645.0" fill="none" stroke="#f03a3a" stroke-width="2.8" stroke-linejoin="round" stroke-linecap="butt"/>
<g stroke="#4a4a4a" stroke-width="3.0" fill="none" stroke-linecap="butt">
<path d="M1180.5 890.0V1667.5"/>
<path d="M2125.0 890.0V1660.0"/>
<path d="M1165.0 891.5H2126.5"/>
<path d="M1180.5 1652.0H2126.5"/>
<path d="M1165.0 1648.2H1180.5M1172.5 1585.1H1180.5M1165.0 1522.1H1180.5M1172.5 1459.0H1180.5M1165.0 1396.0H1180.5M1172.5 1332.9H1180.5M1165.0 1269.8H1180.5M1172.5 1206.8H1180.5M1165.0 1143.7H1180.5M1172.5 1080.7H1180.5M1165.0 1017.6H1180.5M1172.5 954.6H1180.5M1352.2 1652.0V1667.5M1524.0 1652.0V1667.5M1695.7 1652.0V1667.5M1867.4 1652.0V1667.5M2039.1 1652.0V1667.5M1266.4 1652.0V1660.0M1438.1 1652.0V1660.0M1609.8 1652.0V1660.0M1781.5 1652.0V1660.0M1953.3 1652.0V1660.0"/>
</g>
<g font-family="'Liberation Serif', 'DejaVu Serif', serif" font-size="40.5" fill="#000000">
<g text-anchor="end">
<text x="1155.5" y="1659.4">0.0</text>
<text x="1155.5" y="1533.3">0.2</text>
<text x="1155.5" y="1407.2">0.4</text>
<text x="1155.5" y="1281.0">0.6</text>
<text x="1155.5" y="1154.9">0.8</text>
<text x="1155.5" y="1028.8">1.0</text>
<text x="1155.5" y="902.7">1.2</text>
</g>
<g text-anchor="middle">
<text x="1180.5" y="1707.8">0</text>
<text x="1352.2" y="1707.8">100</text>
<text x="1524.0" y="1707.8">200</text>
<text x="1695.7" y="1707.8">300</text>
<text x="1867.4" y="1707.8">400</text>
<text x="2039.1" y="1707.8">500</text>
</g>
</g>
<path d="M1879.8 915.2H1955.4" stroke="#424242" stroke-width="3.0"/>
<path d="M1999.2 915.2H2074.7" stroke="#f03a3a" stroke-width="3.0"/>
<text x="1961.3" y="924.5" font-family="'Liberation Serif', 'DejaVu Serif', serif" font-size="32.5" fill="#000000">Cp</text>
<text x="2081.0" y="924.5" font-family="'Liberation Serif', 'DejaVu Serif', serif" font-size="32.5" fill="#000000">ωp</text>
<text x="1892.8" y="1556.0" font-family="'Liberation Serif', 'DejaVu Serif', serif" font-weight="bold" font-size="80" fill="#ff0000">Point4</text>
</g>
<g id="panel5">
<path d="M157.6 2477.7L168.1 2476.3L179.6 2474.3L188.1 2472.5L195.1 2470.6L201.1 2468.4L207.6 2465.5L213.6 2462.2L219.1 2458.7L224.6 2454.6L229.6 2450.2L234.1 2445.4L237.6 2440.9L241.6 2434.5L246.6 2424.8L249.1 2419.1L251.6 2411.8L253.1 2406.1L254.1 2399.7L255.1 2384.6L256.1 2363.1L259.6 2263.9L260.6 2242.0L262.6 2209.2L265.1 2154.2L266.6 2133.5L267.1 2130.7L269.1 2126.5L271.1 2135.7L271.6 2139.9L272.6 2154.0L273.6 2174.4L275.1 2225.1L276.6 2262.1L279.1 2310.1L280.6 2333.4L282.1 2353.0L284.6 2376.7L288.1 2401.7L291.1 2418.9L293.1 2428.1L295.1 2435.8L297.6 2442.5L300.1 2447.5L301.1 2449.0L303.1 2451.3L306.6 2454.7L309.6 2456.6L313.1 2457.5L318.1 2458.3L320.6 2458.4L322.6 2458.2L328.6 2456.9L331.6 2455.7L338.1 2451.9L343.1 2448.3L348.6 2443.4L353.1 2438.7L357.6 2433.0L361.6 2427.0L364.6 2421.6L367.6 2415.2L370.6 2407.9L373.1 2400.9L375.1 2393.8L376.6 2387.1L378.1 2378.0L379.1 2370.3L380.6 2354.5L382.1 2331.9L384.1 2291.0L388.1 2220.3L391.1 2152.4L393.1 2120.9L395.1 2099.4L397.1 2085.9L398.1 2081.1L399.1 2078.2L400.6 2074.8L401.6 2073.5L402.1 2073.3L402.6 2073.4L403.1 2073.8L404.1 2075.4L405.6 2079.1L406.1 2080.9L407.6 2091.1L409.6 2111.0L412.6 2158.0L419.6 2279.1L421.1 2302.5L423.1 2329.1L424.6 2345.4L426.6 2363.6L428.1 2374.0L430.6 2387.6L432.6 2395.4L435.6 2403.9L440.1 2413.4L444.6 2421.4L447.1 2425.2L449.1 2427.7L452.1 2431.1L455.1 2434.0L458.1 2436.4L461.1 2438.4L466.1 2441.1L470.6 2443.0L477.6 2445.1L482.6 2446.2L486.1 2446.6L489.6 2446.5L493.1 2445.9L497.6 2444.6L500.1 2443.4L502.1 2442.0L504.6 2439.7L505.6 2438.3L507.1 2435.1L508.6 2431.1L510.6 2425.2L512.1 2420.1L515.6 2405.1L518.6 2389.3L520.6 2375.3L522.1 2361.0L524.1 2335.0L525.1 2316.6L529.1 2220.4L530.1 2203.1L531.1 2189.4L532.1 2179.0L533.1 2172.9L535.3 2165.6L537.3 2172.4L537.8 2174.7L538.8 2186.2L541.3 2228.8L542.8 2258.4L545.3 2321.4L547.3 2363.1L549.3 2393.1L550.8 2408.6L552.3 2415.4L554.3 2421.0L558.8 2429.9L562.3 2435.8L565.3 2439.9L569.8 2444.6L574.3 2448.4L578.8 2451.3L584.8 2454.4L590.8 2456.8L598.3 2459.3L606.3 2461.4L614.3 2463.2L623.3 2464.9L636.8 2467.0L650.3 2468.7L657.3 2470.3L659.8 2470.7L664.8 2470.7L677.8 2470.1L714.3 2469.7L727.8 2467.7L741.3 2466.9L746.3 2466.4L753.3 2465.1L759.8 2463.1L763.8 2461.1L768.8 2457.8L770.3 2456.3L771.3 2454.9L772.3 2452.5L773.3 2448.1L775.3 2436.4L778.8 2405.0L782.3 2378.2L783.3 2373.4L783.8 2372.0L786.4 2367.4L788.9 2371.7L789.4 2372.9L790.4 2378.5L791.4 2387.3L797.4 2449.1L799.4 2463.6L800.9 2471.7L802.9 2477.2L804.4 2480.2L805.9 2482.5L807.4 2484.3L810.9 2487.8L812.4 2489.0L813.9 2489.8L814.9 2490.1L818.9 2490.1L837.9 2489.5L854.9 2488.6L868.9 2487.5L877.4 2486.5L882.9 2485.6L888.9 2483.9L893.4 2482.0L895.4 2480.8L896.9 2479.5L898.4 2477.5L899.9 2473.9L907.9 2451.0L910.4 2445.6L912.9 2441.1L915.9 2437.3L918.9 2434.4L919.9 2433.8L921.9 2433.0L924.4 2432.5L925.9 2432.7L927.4 2433.4L928.9 2434.5L929.9 2435.8L931.4 2439.3L937.9 2457.7L940.4 2462.9L941.9 2465.4L943.4 2467.1L945.4 2468.4L947.9 2469.6L950.9 2470.7L956.9 2472.2L962.9 2473.5L968.4 2474.3L973.4 2474.8L984.4 2475.4L993.9 2475.7L1020.4 2475.4L1022.4 2475.1L1024.9 2474.4L1032.4 2471.5L1041.4 2466.8L1048.9 2463.2L1052.4 2462.2L1054.9 2461.9L1055.4 2462.1L1056.4 2463.3L1058.9 2468.3L1062.9 2478.2L1065.4 2481.7L1067.4 2483.6L1068.4 2484.0L1069.4 2484.0L1072.9 2482.9L1074.4 2482.6L1091.7 2482.6" fill="none" stroke="#424242" stroke-width="2.8" stroke-linejoin="round" stroke-linecap="butt"/>
<path d="M157.6 2480.0L165.6 2479.0L174.1 2477.6L181.6 2476.1L188.6 2474.4L195.1 2472.5L200.1 2470.6L205.6 2468.2L211.6 2465.2L216.6 2462.2L221.6 2458.7L226.6 2454.7L231.1 2450.6L234.1 2447.3L237.1 2443.4L240.1 2438.6L243.1 2433.0L247.6 2423.7L250.6 2416.0L253.1 2407.8L254.6 2399.6L255.6 2387.4L260.1 2321.8L263.1 2287.7L264.6 2275.3L265.1 2272.9L267.8 2263.5L270.3 2271.2L271.8 2279.0L277.3 2319.2L283.8 2370.1L286.3 2387.3L288.8 2402.2L291.3 2415.1L294.3 2428.2L296.3 2434.5L299.3 2441.2L301.8 2445.2L305.8 2450.4L308.3 2452.8L311.3 2454.6L314.8 2456.2L317.8 2456.9L322.3 2456.9L328.8 2456.5L332.3 2455.5L338.3 2452.6L341.8 2450.6L345.3 2448.0L349.3 2444.7L352.8 2441.2L356.3 2437.0L359.8 2432.1L362.8 2427.3L365.8 2421.6L368.8 2414.9L371.8 2407.0L373.8 2400.7L375.8 2393.1L377.3 2386.0L378.8 2376.5L380.3 2363.9L381.8 2344.7L382.8 2328.2L384.8 2287.4L388.8 2219.0L390.8 2189.5L392.8 2164.6L395.3 2139.9L396.8 2130.2L398.3 2123.3L399.3 2120.0L400.8 2117.1L401.8 2115.8L402.3 2115.5L403.3 2115.7L404.8 2117.5L405.8 2119.2L406.8 2122.7L410.3 2143.5L411.8 2155.3L412.8 2167.4L414.3 2206.1L415.3 2225.7L419.3 2292.2L422.3 2335.1L424.3 2356.5L426.3 2372.6L428.8 2386.5L430.3 2392.9L431.8 2398.0L434.3 2405.3L436.8 2411.1L440.3 2417.8L443.8 2423.4L447.3 2428.1L451.8 2433.0L455.8 2436.7L459.8 2439.4L465.8 2442.5L471.3 2444.5L480.8 2446.7L483.8 2447.1L486.8 2447.3L488.8 2447.2L491.3 2446.9L497.8 2445.0L501.3 2443.1L503.3 2441.5L504.8 2440.0L505.8 2438.4L507.3 2435.0L511.3 2423.0L513.8 2413.4L516.8 2399.4L518.8 2388.3L520.8 2374.0L522.3 2359.2L523.3 2346.8L524.3 2332.4L525.3 2313.2L529.3 2219.7L529.8 2201.6L531.3 2092.9L531.8 2070.8L532.3 2061.1L533.3 2047.8L533.8 2043.5L535.6 2034.2L537.1 2041.5L538.1 2050.4L539.1 2065.2L540.1 2086.3L542.1 2148.7L546.1 2293.8L548.1 2358.1L549.1 2382.0L550.6 2404.8L551.6 2413.2L553.1 2419.9L554.6 2424.5L557.6 2431.2L560.6 2436.8L564.1 2441.9L568.6 2446.9L573.1 2451.0L577.1 2453.8L582.6 2456.6L588.6 2459.0L596.1 2461.4L604.1 2463.6L612.6 2465.6L625.6 2468.2L634.1 2469.5L644.1 2470.3L647.1 2470.4L647.6 2470.1L649.1 2468.2L651.6 2463.4L655.1 2454.8L658.1 2451.0L659.1 2450.3L660.1 2450.0L660.6 2450.2L661.6 2450.9L664.6 2454.8L668.6 2463.1L672.6 2470.3L674.1 2472.0L675.6 2472.4L679.6 2473.1L684.6 2473.5L698.6 2474.0L712.1 2474.2L727.1 2473.4L746.6 2473.3L757.6 2472.5L763.6 2471.6L768.1 2470.3L769.6 2469.4L770.6 2468.6L772.6 2466.2L773.1 2465.2L774.1 2462.0L779.6 2440.5L781.6 2435.0L782.6 2432.7L783.6 2431.1L784.1 2430.8L787.0 2430.2L789.5 2435.0L790.5 2438.3L791.5 2444.2L796.0 2475.4L797.0 2480.7L799.0 2486.3L800.0 2488.1L800.5 2488.5L801.0 2488.7L806.0 2489.1L811.5 2489.2L815.5 2488.8L825.0 2487.5L829.5 2487.2L836.5 2487.4L855.5 2488.3L882.5 2488.4L888.5 2487.9L894.0 2486.9L895.5 2486.2L897.5 2484.7L899.0 2483.2L900.0 2481.6L901.5 2478.3L909.5 2457.7L911.5 2453.9L914.0 2449.9L916.5 2447.0L920.0 2444.0L922.5 2442.9L924.5 2442.4L926.0 2442.3L927.0 2442.5L928.0 2443.2L930.5 2446.1L931.5 2448.1L934.0 2454.4L937.5 2462.4L939.5 2466.0L942.0 2468.6L944.0 2470.1L946.5 2471.1L950.0 2472.1L958.0 2473.7L966.0 2474.9L972.0 2475.6L981.5 2476.3L994.5 2476.8L1020.5 2476.8L1025.0 2476.3L1032.0 2474.6L1035.5 2473.4L1048.5 2468.2L1050.5 2467.7L1052.5 2467.7L1055.5 2468.1L1056.5 2468.7L1057.5 2470.0L1060.0 2474.3L1063.0 2480.0L1065.5 2482.2L1067.5 2483.3L1069.5 2483.4L1074.5 2482.6L1091.7 2482.6" fill="none" stroke="#f03a3a" stroke-width="2.8" stroke-linejoin="round" stroke-linecap="butt"/>
<g stroke="#4a4a4a" stroke-width="3.0" fill="none" stroke-linecap="butt">
<path d="M143.2 1729.0V2511.5"/>
<path d="M1092.0 1729.0V2504.0"/>
<path d="M127.7 1730.5H1093.5"/>
<path d="M143.2 2496.0H1093.5"/>
<path d="M127.7 2492.6H143.2M135.2 2416.4H143.2M127.7 2340.2H143.2M135.2 2264.0H143.2M127.7 2187.8H143.2M135.2 2111.5H143.2M127.7 2035.3H143.2M135.2 1959.1H143.2M127.7 1882.9H143.2M135.2 1806.7H143.2M315.7 2496.0V2511.5M488.2 2496.0V2511.5M660.7 2496.0V2511.5M833.2 2496.0V2511.5M1005.7 2496.0V2511.5M229.5 2496.0V2504.0M402.0 2496.0V2504.0M574.5 2496.0V2504.0M747.0 2496.0V2504.0M919.5 2496.0V2504.0"/>
</g>
<g font-family="'Liberation Serif', 'DejaVu Serif', serif" font-size="40.5" fill="#000000">
<g text-anchor="end">
<text x="118.2" y="2503.8">0.0</text>
<text x="118.2" y="2351.4">0.2</text>
<text x="118.2" y="2199.0">0.4</text>
<text x="118.2" y="2046.5">0.6</text>
<text x="118.2" y="1894.1">0.8</text>
<text x="118.2" y="1741.7">1.0</text>
</g>
<g text-anchor="middle">
<text x="143.2" y="2551.8">0</text>
<text x="315.7" y="2551.8">100</text>
<text x="488.2" y="2551.8">200</text>
<text x="660.7" y="2551.8">300</text>
<text x="833.2" y="2551.8">400</text>
<text x="1005.7" y="2551.8">500</text>
</g>
</g>
<path d="M846.0 1755.0H921.7" stroke="#424242" stroke-width="3.0"/>
<path d="M965.4 1755.0H1042.0" stroke="#f03a3a" stroke-width="3.0"/>
<text x="928.0" y="1764.3" font-family="'Liberation Serif', 'DejaVu Serif', serif" font-size="32.5" fill="#000000">Cp</text>
<text x="1047.4" y="1764.3" font-family="'Liberation Serif', 'DejaVu Serif', serif" font-size="32.5" fill="#000000">ωp</text>
<text x="865.5" y="2402.5" font-family="'Liberation Serif', 'DejaVu Serif', serif" font-weight="bold" font-size="80" fill="#ff0000">Point5</text>
<text transform="translate(50.0 2113.2) rotate(-90)" text-anchor="middle" font-family="'Liberation Serif', 'DejaVu Serif', serif" font-size="43.5" fill="#000000">Amplitude</text>
<text x="617.6" y="2620.0" text-anchor="middle" font-family="'Liberation Serif', 'DejaVu Serif', serif" font-size="43.5" fill="#000000">Frequency (Hz)</text>
</g>
<g id="panel6">
<path d="M1187.0 2493.8L1197.0 2493.0L1209.0 2491.7L1217.5 2490.5L1228.5 2488.7L1238.5 2486.7L1247.5 2484.6L1254.0 2482.8L1259.0 2480.9L1264.0 2478.5L1269.5 2475.2L1273.0 2472.6L1276.5 2469.4L1279.5 2465.6L1283.0 2460.1L1285.0 2455.8L1286.5 2451.4L1287.5 2446.8L1288.0 2442.7L1288.5 2435.5L1289.5 2412.4L1290.0 2393.9L1292.0 2294.8L1292.5 2258.9L1293.5 2144.8L1294.0 2124.0L1294.5 2108.6L1295.5 2089.6L1298.2 2060.9L1300.7 2100.7L1301.2 2111.8L1301.7 2143.4L1302.7 2250.7L1303.7 2320.8L1304.7 2367.1L1305.7 2401.3L1306.7 2423.8L1307.7 2437.4L1309.2 2448.8L1310.7 2455.9L1313.2 2464.2L1314.7 2468.0L1316.2 2471.0L1319.7 2476.4L1321.7 2478.7L1323.7 2480.7L1328.2 2484.0L1336.2 2488.7L1343.2 2492.0L1351.2 2494.6L1365.7 2498.6L1378.2 2501.0L1381.2 2501.2L1384.7 2501.2L1395.7 2500.7L1397.7 2500.3L1400.2 2499.4L1403.2 2497.9L1405.2 2496.6L1407.7 2493.9L1408.7 2491.9L1409.7 2488.7L1411.2 2482.1L1412.7 2470.0L1415.7 2439.7L1417.2 2428.2L1418.2 2422.8L1418.7 2421.3L1420.3 2418.2L1422.3 2422.3L1422.8 2423.9L1425.3 2440.5L1428.3 2456.7L1430.3 2465.9L1431.8 2470.9L1434.3 2475.8L1436.8 2479.1L1439.8 2482.0L1443.3 2484.5L1446.8 2486.4L1450.8 2488.1L1454.8 2489.4L1461.3 2490.8L1467.8 2491.8L1477.8 2492.8L1484.8 2493.2L1491.8 2493.2L1499.8 2492.8L1507.3 2492.2L1512.3 2491.5L1521.8 2489.4L1526.8 2487.9L1528.8 2487.0L1530.3 2486.0L1531.8 2484.7L1532.8 2483.4L1533.8 2480.8L1537.3 2468.8L1538.3 2466.0L1539.3 2464.5L1542.2 2461.6L1545.2 2464.8L1546.2 2466.6L1552.7 2485.7L1553.7 2488.1L1555.2 2490.9L1557.2 2494.1L1558.7 2495.9L1561.7 2498.7L1563.7 2500.0L1564.7 2500.3L1572.7 2500.3L1577.2 2499.9L1586.2 2498.2L1616.2 2493.3L1624.2 2491.8L1629.7 2490.5L1633.7 2489.3L1637.7 2487.8L1640.7 2486.4L1643.7 2484.7L1647.2 2482.3L1650.2 2479.9L1652.2 2477.8L1653.7 2475.8L1655.2 2472.9L1657.2 2467.5L1663.2 2441.8L1664.7 2437.4L1665.2 2436.6L1665.7 2436.2L1666.2 2436.2L1667.2 2436.7L1669.2 2438.6L1670.2 2439.9L1671.7 2443.1L1674.7 2451.6L1677.7 2463.1L1681.7 2477.0L1684.2 2483.3L1686.2 2487.1L1687.7 2489.0L1689.7 2490.9L1691.2 2492.1L1693.2 2493.4L1699.2 2495.8L1702.2 2496.6L1705.2 2497.2L1713.7 2498.1L1721.7 2498.7L1728.7 2498.9L1736.2 2498.9L1747.2 2498.6L1758.7 2498.0L1763.7 2497.3L1768.2 2496.3L1769.7 2495.8L1771.7 2494.7L1776.2 2490.9L1778.2 2488.7L1782.7 2483.0L1786.2 2479.2L1789.2 2476.2L1792.7 2473.3L1794.2 2472.3L1795.7 2471.5L1798.2 2471.0L1800.7 2470.7L1801.7 2471.1L1802.7 2472.0L1804.2 2473.8L1804.7 2474.7L1807.7 2483.4L1809.7 2488.1L1811.2 2491.1L1812.7 2492.9L1815.2 2494.8L1818.2 2496.2L1824.7 2497.9L1830.7 2498.8L1848.7 2499.8L1866.2 2500.1L1886.2 2499.7L1891.2 2499.4L1894.2 2499.0L1900.2 2497.1L1902.2 2496.3L1903.7 2495.4L1906.2 2493.3L1909.2 2490.3L1913.7 2484.5L1917.7 2480.3L1919.2 2479.4L1923.1 2478.8L1926.1 2481.5L1927.1 2482.6L1930.6 2490.5L1932.6 2493.1L1934.6 2495.2L1936.1 2496.1L1939.6 2497.4L1943.1 2498.3L1946.6 2498.9L1961.6 2499.9L1976.1 2500.4L2016.6 2500.1L2023.1 2499.6L2028.1 2498.5L2030.6 2497.7L2031.6 2496.8L2033.1 2495.2L2036.1 2491.5L2039.1 2487.3L2041.6 2484.7L2043.1 2483.7L2046.0 2483.4L2049.0 2485.9L2050.0 2487.7L2052.5 2493.6L2055.0 2497.4L2056.5 2498.8L2058.0 2499.2L2064.5 2500.2L2074.5 2500.6L2100.0 2501.1L2127.6 2501.3" fill="none" stroke="#424242" stroke-width="2.8" stroke-linejoin="round" stroke-linecap="butt"/>
<path d="M1187.0 2489.2L1198.5 2487.8L1211.0 2485.7L1221.0 2483.8L1230.5 2481.5L1238.5 2479.1L1245.5 2476.6L1251.5 2473.8L1257.0 2470.6L1262.0 2466.9L1268.0 2461.3L1272.5 2456.3L1276.0 2451.5L1278.0 2448.1L1279.5 2445.2L1282.5 2437.9L1284.0 2433.2L1285.5 2426.0L1286.5 2417.0L1287.5 2400.4L1288.5 2368.0L1290.0 2305.0L1290.5 2273.7L1291.5 2100.0L1292.0 2048.2L1293.0 1970.5L1294.5 1880.8L1295.5 1845.7L1298.2 1801.2L1300.7 1856.0L1301.7 1891.9L1304.2 2055.7L1304.7 2103.7L1305.7 2298.9L1307.2 2357.8L1308.7 2396.1L1309.7 2411.2L1310.7 2420.6L1311.7 2427.7L1312.7 2433.5L1314.2 2440.5L1317.2 2451.3L1318.7 2455.6L1319.7 2457.8L1321.2 2460.7L1323.2 2463.8L1326.7 2468.8L1329.7 2472.7L1332.2 2475.4L1335.2 2478.1L1339.2 2481.2L1344.7 2484.9L1350.2 2488.1L1355.7 2490.8L1362.7 2493.7L1372.2 2497.3L1375.7 2498.3L1382.2 2499.5L1385.2 2499.7L1387.7 2499.3L1391.2 2498.2L1394.7 2496.7L1397.2 2495.0L1400.2 2492.2L1402.2 2489.8L1403.7 2487.4L1405.7 2483.3L1407.2 2479.1L1408.7 2472.8L1409.7 2466.4L1411.7 2442.4L1417.7 2342.9L1418.2 2337.3L1418.7 2333.9L1420.7 2325.2L1422.7 2334.1L1423.2 2337.5L1425.2 2361.8L1430.7 2422.1L1432.7 2438.7L1433.7 2444.5L1434.7 2448.5L1436.7 2454.4L1440.2 2462.1L1442.7 2466.4L1445.2 2469.3L1449.2 2472.6L1454.7 2475.9L1459.7 2478.1L1466.2 2480.0L1474.2 2481.6L1485.7 2482.8L1493.2 2483.1L1501.2 2482.8L1508.2 2482.1L1515.2 2480.5L1522.2 2478.2L1527.7 2475.5L1530.2 2473.6L1531.7 2471.7L1532.2 2470.6L1533.2 2466.8L1534.7 2459.6L1537.2 2446.1L1538.7 2440.1L1539.7 2437.2L1540.2 2436.4L1542.8 2433.9L1545.3 2437.1L1546.3 2439.8L1551.8 2467.1L1553.8 2475.0L1555.3 2479.8L1557.3 2484.7L1559.3 2488.6L1562.3 2492.8L1563.3 2493.9L1564.3 2494.6L1564.8 2494.7L1574.8 2494.7L1578.8 2494.2L1600.3 2488.7L1614.3 2485.5L1621.8 2483.6L1627.3 2481.9L1631.8 2480.0L1636.3 2477.5L1639.8 2475.3L1643.3 2472.5L1646.3 2469.7L1648.8 2466.8L1651.3 2463.3L1652.8 2460.7L1654.3 2457.0L1655.8 2450.8L1657.3 2440.1L1658.8 2414.8L1659.3 2409.0L1660.3 2402.0L1661.8 2392.9L1663.3 2386.0L1664.8 2381.8L1665.3 2381.2L1665.8 2380.9L1666.3 2381.0L1667.3 2381.8L1669.8 2386.1L1671.3 2390.5L1672.8 2396.6L1675.3 2408.0L1677.3 2418.9L1678.8 2427.9L1681.8 2448.7L1683.8 2460.0L1685.8 2469.7L1687.3 2474.7L1688.8 2478.2L1690.8 2481.6L1693.8 2485.6L1696.8 2488.7L1699.3 2490.6L1702.8 2492.4L1706.8 2494.1L1710.8 2495.4L1713.3 2495.9L1717.8 2496.6L1726.8 2497.4L1733.3 2497.5L1739.3 2496.9L1750.8 2494.8L1757.8 2493.0L1764.8 2490.2L1767.3 2488.8L1769.8 2487.1L1771.8 2485.2L1773.3 2483.2L1775.3 2479.2L1777.8 2473.2L1779.8 2467.7L1787.8 2442.8L1792.8 2429.7L1794.3 2426.9L1795.3 2425.7L1797.8 2423.7L1799.3 2423.2L1800.3 2423.7L1801.3 2424.8L1802.3 2426.5L1802.8 2428.2L1805.3 2444.0L1807.8 2464.5L1809.8 2474.9L1810.3 2476.7L1811.3 2479.0L1812.8 2481.4L1814.8 2483.7L1817.8 2486.1L1821.3 2488.4L1824.8 2490.2L1829.3 2491.9L1834.3 2493.6L1838.8 2494.9L1843.8 2495.8L1856.8 2497.1L1864.8 2497.5L1872.8 2497.4L1882.8 2496.8L1887.8 2496.2L1893.3 2494.7L1896.3 2493.5L1897.8 2492.7L1900.3 2490.8L1902.8 2488.2L1904.3 2486.1L1905.8 2483.2L1908.8 2476.2L1910.3 2472.2L1917.8 2448.5L1918.8 2446.2L1922.2 2441.4L1924.7 2445.5L1925.2 2446.6L1926.2 2451.3L1927.7 2460.7L1930.7 2476.0L1931.7 2479.4L1933.7 2483.6L1935.7 2486.3L1937.7 2487.9L1939.7 2489.2L1944.2 2491.3L1951.2 2493.6L1957.7 2495.0L1967.7 2496.1L1977.7 2496.6L1997.2 2497.1L2008.7 2497.2L2013.7 2497.0L2020.2 2496.2L2026.2 2494.9L2027.7 2494.1L2029.2 2492.9L2030.7 2491.3L2031.7 2489.9L2033.2 2486.2L2035.7 2478.4L2039.2 2466.3L2040.7 2462.7L2041.7 2460.5L2042.7 2459.0L2043.2 2458.6L2045.5 2457.8L2048.0 2461.4L2049.0 2463.8L2054.0 2486.1L2055.0 2489.6L2055.5 2490.8L2057.0 2492.9L2058.5 2494.4L2059.5 2495.1L2062.5 2496.0L2066.0 2496.6L2075.5 2497.5L2103.5 2498.8L2127.6 2499.5" fill="none" stroke="#f03a3a" stroke-width="2.8" stroke-linejoin="round" stroke-linecap="butt"/>
<g stroke="#4a4a4a" stroke-width="3.0" fill="none" stroke-linecap="butt">
<path d="M1175.2 1735.3V2519.9"/>
<path d="M2128.2 1735.3V2512.4"/>
<path d="M1159.7 1736.8H2129.7"/>
<path d="M1175.2 2504.4H2129.7"/>
<path d="M1159.7 2502.5H1175.2M1167.2 2406.8H1175.2M1159.7 2311.1H1175.2M1167.2 2215.4H1175.2M1159.7 2119.7H1175.2M1167.2 2023.9H1175.2M1159.7 1928.2H1175.2M1167.2 1832.5H1175.2M1348.5 2504.4V2519.9M1521.7 2504.4V2519.9M1695.0 2504.4V2519.9M1868.3 2504.4V2519.9M2041.6 2504.4V2519.9M1261.8 2504.4V2512.4M1435.1 2504.4V2512.4M1608.4 2504.4V2512.4M1781.7 2504.4V2512.4M1954.9 2504.4V2512.4"/>
</g>
<g font-family="'Liberation Serif', 'DejaVu Serif', serif" font-size="40.5" fill="#000000">
<g text-anchor="end">
<text x="1150.2" y="2513.7">0.0</text>
<text x="1150.2" y="2322.3">0.5</text>
<text x="1150.2" y="2130.8">1.0</text>
<text x="1150.2" y="1939.4">1.5</text>
<text x="1150.2" y="1748.0">2.0</text>
</g>
<g text-anchor="middle">
<text x="1175.2" y="2560.2">0</text>
<text x="1348.5" y="2560.2">100</text>
<text x="1521.7" y="2560.2">200</text>
<text x="1695.0" y="2560.2">300</text>
<text x="1868.3" y="2560.2">400</text>
<text x="2041.6" y="2560.2">500</text>
</g>
</g>
<path d="M1880.5 1761.5H1956.5" stroke="#424242" stroke-width="3.0"/>
<path d="M2001.0 1761.5H2077.0" stroke="#f03a3a" stroke-width="3.0"/>
<text x="1962.4" y="1770.8" font-family="'Liberation Serif', 'DejaVu Serif', serif" font-size="32.5" fill="#000000">Cp</text>
<text x="2083.4" y="1770.8" font-family="'Liberation Serif', 'DejaVu Serif', serif" font-size="32.5" fill="#000000">ωp</text>
<text x="1902.8" y="2408.0" font-family="'Liberation Serif', 'DejaVu Serif', serif" font-weight="bold" font-size="80" fill="#ff0000">Point6</text>
<text x="1651.7" y="2628.4" text-anchor="middle" font-family="'Liberation Serif', 'DejaVu Serif', serif" font-size="43.5" fill="#000000">Frequency (Hz)</text>
<text x="1375.5" y="2267.5" font-family="'Liberation Serif', 'DejaVu Serif', serif" font-size="60" fill="#000000">Frequency reduction</text>
</g>
</svg>
</body>
</html>
